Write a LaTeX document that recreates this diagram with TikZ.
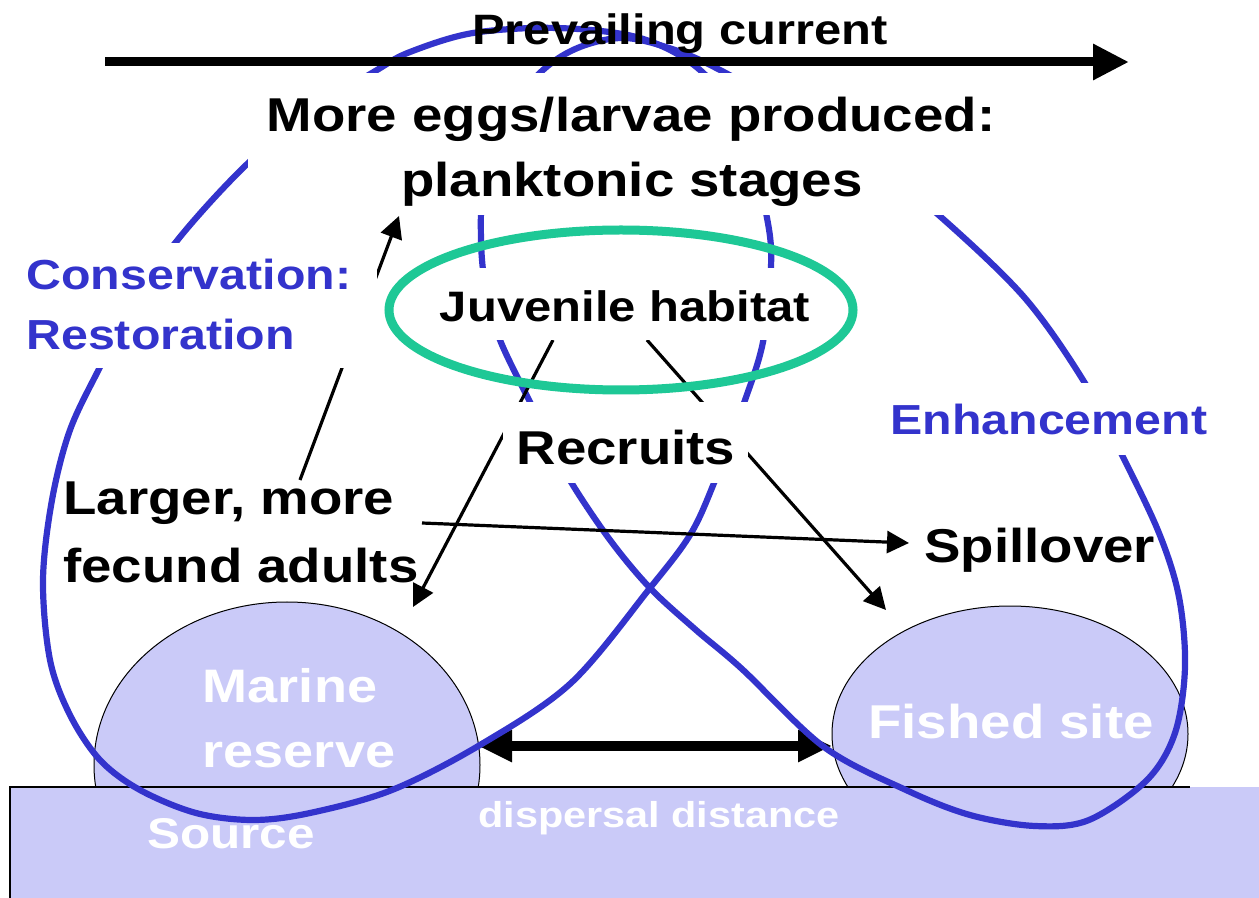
\documentclass[tikz,border=0pt]{standalone}
\usepackage{fontspec}
\setmainfont{Liberation Sans}[FakeStretch=1.15]
\usetikzlibrary{arrows.meta,shapes.geometric}
\definecolor{lav}{RGB}{202,202,248}
\definecolor{loopblue}{RGB}{51,51,204}
\definecolor{habgreen}{RGB}{30,200,150}
\newcommand\myfs[1]{\fontsize{#1pt}{#1pt}\selectfont}
\tikzset{
  loopline/.style={draw=loopblue, line width=3.1pt, line join=round},
  thinarrow/.style={draw=black, line width=1.6pt, -{Triangle[length=11pt,width=11pt]}},
  maskbox/.style={fill=white, draw=none},
  site/.style={ellipse, draw=black, line width=0.5pt, fill=lav, inner sep=0pt},
  lbl/.style={inner sep=0pt, anchor=base, text=black, font=\bfseries\myfs{23.75}},
  bluelbl/.style={inner sep=0pt, anchor=base west, text=loopblue, font=\bfseries\myfs{21}},
  whitelbl/.style={inner sep=0pt, anchor=base, text=white, font=\bfseries\myfs{23.5}},
}
\begin{document}
\begin{tikzpicture}[x=0.5pt,y=-0.5pt]
\useasboundingbox (0,0) rectangle (1259,898);
\fill[white] (0,0) rectangle (1259,898);

% sites and ground
\node[site, minimum width=193pt, minimum height=163pt] (mr) at (287,765) {};
\node[site, minimum width=178pt, minimum height=128pt] (fs) at (1010,734) {};
\fill[lav] (10,787) rectangle (1259,898);
\draw[line width=0.6pt] (10,898) -- (10,787) -- (1190,787);

% named coordinates for connectors
\coordinate (dL) at (478,746);
\coordinate (dR) at (832,746);
\coordinate (curS) at (105,62);
\coordinate (curE) at (1129,62);
\coordinate (juvL) at (553,340);
\coordinate (tipL) at (413,607);
\coordinate (juvR) at (647,340);
\coordinate (tipR) at (886,610);
\coordinate (adTop) at (300,480);
\coordinate (eggTip) at (399,216);
\coordinate (adR) at (422,523);
\coordinate (spTip) at (909,543);

% dispersal distance arrow
\draw[line width=5pt, {Triangle[length=17pt,width=15pt]}-{Triangle[length=17pt,width=15pt]}] (dL) -- (dR);

% blue loops
\draw[loopline] plot[smooth cycle, tension=0.55] coordinates {
 (650,588) (690,535) (714,483) (744,403) (763,342) (771,267) (767,218) (745,130)
 (700,70) (640,38) (557,28) (473,33) (410,52) (377,70) (300,118) (239,172)
 (180,237) (135,300) (100,367) (70,430) (52,500) (43,580) (50,660) (70,715)
 (100,760) (140,790) (196,813) (253,820) (310,813) (392,790) (480,745) (571,683)};
\draw[loopline] plot[smooth cycle, tension=0.55] coordinates {
 (650,588) (610,540) (571,482) (550,440) (530,402) (500,340) (486,290) (481,240)
 (484,180) (505,115) (543,70) (580,47) (625,38) (675,50) (720,70) (800,115)
 (870,160) (942,218) (1024,297) (1083,380) (1122,455) (1159,533) (1179,597)
 (1185,667) (1175,733) (1147,780) (1089,820) (1035,826) (970,815) (906,790)
 (824,747) (742,669) (696,630)};

% prevailing current arrow
\draw[line width=4.5pt, -{Triangle[length=18pt,width=17pt]}] (curS) -- (curE);

% thin arrows
\draw[thinarrow] (juvL) -- (tipL);
\draw[thinarrow] (juvR) -- (tipR);
\draw[thinarrow] (adTop) -- (eggTip);
\draw[thinarrow] (adR) -- (spTip);

% white masks behind texts
\fill[maskbox] (248,73) rectangle (1008,215);
\fill[maskbox] (18,243) rectangle (377,368);
\fill[maskbox] (435,268) rectangle (815,340);
\fill[maskbox] (503,402) rectangle (748,483);
\fill[maskbox] (880,383) rectangle (1222,455);

% juvenile habitat ellipse
\draw[habgreen, line width=4.5pt] (621,310) ellipse [x radius=232, y radius=80];

% texts
\node[lbl, font=\bfseries\myfs{21.25}] (prev) at (680,45) {Prevailing current};
\node[lbl] (eggs1) at (631,132) {More eggs/larvae produced:};
\node[lbl] (eggs2) at (632,197) {planktonic stages};
\node[lbl, font=\bfseries\myfs{21.3}] (juv) at (625,322) {Juvenile habitat};
\node[lbl] (recr) at (626,465) {Recruits};
\node[bluelbl] (cons1) at (26,290) {Conservation:};
\node[bluelbl] (cons2) at (26,350) {Restoration};
\node[bluelbl] (enh) at (890,435) {Enhancement};
\node[lbl, anchor=base west] (ad1) at (63,515) {Larger, more};
\node[lbl, anchor=base west] (ad2) at (63,582) {fecund adults};
\node[lbl, anchor=base west] (spill) at (924,562) {Spillover};
\node[whitelbl] (mar1) at (290,702) {Marine};
\node[whitelbl] (mar2) at (299,767) {reserve};
\node[whitelbl, font=\bfseries\myfs{23.75}] (fish) at (1011,738) {Fished site};
\node[whitelbl, font=\bfseries\myfs{21.5}] (src) at (231,848) {Source};
\node[whitelbl, font=\bfseries\myfs{18}] (disp) at (659,827) {dispersal distance};
\end{tikzpicture}
\end{document}
